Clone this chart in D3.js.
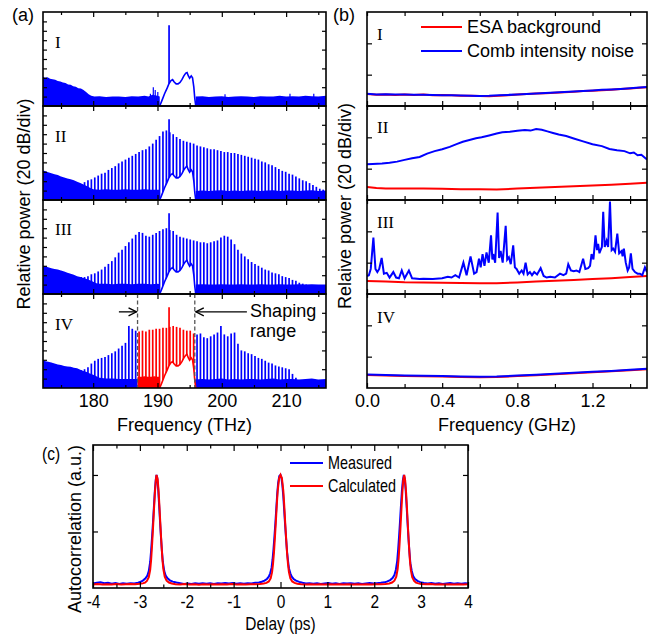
<!DOCTYPE html>
<html><head><meta charset="utf-8">
<script src="https://cdn.jsdelivr.net/npm/d3@7"></script>
<style>body{margin:0;background:#fff;}</style>
</head><body><svg id="c" width="655" height="635"></svg>
<script>
// ---------------- DATA ----------------
// Panel (a): optical spectra, relative power in dB (0-100 window), frequency in THz
const freqTicksMajor = [180, 190, 200, 210];
const freqTicksMinor = [175, 185, 195, 205, 215];
const combStart = 177.6, combStep = 0.53;          // comb line grid (THz)
const combII = [14,17,19,21,22,24,26,28,29,32,34,36,39,41,43,45,47,49,51,53,54,57,60,64,68,73,74,72,70,67,65,63,62,61,60,58,57,56,55,54,54,53,52,51,51,50,50,49,48,47,46,45,44,43,41,40,38,37,35,33,31,30,28,27,25,23,21,20,18,16,14,12,11];
const combIII = [17,18,18,19,21,22,24,26,29,32,35,39,44,47,51,55,59,63,66,65,62,61,63,65,67,69,70,68,67,63,61,60,59,58,57,56,55,55,54,55,56,57,60,62,61,58,53,47,43,40,37,34,32,30,28,26,25,23,22,21,19,18,17,15,14,12,11,10];
const combIV = [17,19,20,22,26,29,31,32,33,35,37,39,42,45,48,66,63,61,60,61,60,62,62,63,63,64,64,65,66,65,64,62,61,61,58,57,58,54,53,55,57,59,66,57,55,58,59,47,40,39,37,36,34,32,31,29,27,26,24,23,22,21,20,15,11];
const shapingRange = [186.9, 195.8];
const hump = [[190.35,0],[190.7,6],[191.1,13],[191.5,19],[191.8,24],[192.1,27],[192.35,28],[192.6,25.5],[192.9,23.5],[193.2,23.5],[193.5,25],[193.8,28],[194.1,32],[194.4,35],[194.6,35.5],[194.8,32],[195.0,29.5],[195.25,32],[195.45,30],[195.65,20],[195.8,8],[195.95,0]];
const cwLine = [191.8, 24, 86];   // freq, base, top
const floorI_L = [[172.2,31],[172.5,30],[172.9,30.5],[173.3,29],[173.7,28.5],[174.1,28],[174.5,26.5],[174.9,26],[175.3,25],[175.7,24.5],[176.1,23],[176.5,22.5],[176.9,21],[177.3,20.5],[177.7,19],[178.1,18.5],[178.5,17],[178.9,15],[179.3,12.5],[179.7,11],[180.2,10],[181,10.5],[182,9.5],[183,10],[184,10],[185,9.5],[186,10.5],[187,10],[188,11],[188.6,10],[189.2,12],[190,11],[190.35,10]];
const floorI_R = [[195.95,10],[197,10.5],[198,9.5],[199,10],[200,10.5],[201,9.5],[202,10],[203,10.5],[204,10],[205,9.5],[206,10.5],[207,10],[208,10],[209,11],[210,10],[211,10.5],[212,10],[213,11],[214,10.5],[215,10],[216.2,11]];
const spikesI = [[188.9,13],[189.35,20],[189.65,17],[190.05,15],[200.5,12.5],[210.6,13],[214.3,13]];
const floorII_L = [[172.2,31.5],[172.6,30.5],[173,29.5],[173.5,28.5],[174,27.5],[174.5,26.5],[175,25],[175.5,24],[176,23],[176.5,22],[177,21],[177.5,19.5],[178,18],[178.5,16.5],[179,15],[179.5,13],[180,11.5],[181,11],[182,11.5],[183,11],[184,11],[185,11.5],[186,11],[187,11],[188,11.5],[189,11],[190,11],[190.35,11]];
const floorII_R = [[195.95,9.5],[197,10],[198,9.5],[199,10],[200,10.5],[201,9.5],[202,10],[203,9.5],[204,10],[205,10],[206,9.5],[207,10],[208,10.5],[209,9.5],[210,10],[211,10],[212,9.5],[213,10],[214,10.5],[215,9.5],[216.2,10]];
const floorIII_L = [[172.2,30],[172.6,29.5],[173,28.5],[173.5,27.5],[174,26.5],[174.5,26],[175,25],[175.5,24],[176,22.5],[176.5,21.5],[177,20.5],[177.5,19],[178,18],[178.5,17],[179,16],[179.5,14.5],[180,13],[180.5,11.5],[181,11],[182,11],[183,10.5],[184,11],[185,11],[186,10.5],[187,11],[188,11],[189,10.5],[190,11],[190.35,10.5]];
const floorIII_R = [[195.95,10],[197,10.5],[198,10],[199,10],[200,10.5],[201,10],[202,10],[203,10.5],[204,10],[205,10],[206,10.5],[207,10],[208,10],[209,10.5],[210,10],[211,10],[212,10.5],[213,10],[214,10.5],[215,10],[216.2,10]];
const floorIV_L = [[172.2,29.5],[172.6,28.5],[173,28],[173.5,27],[174,26],[174.5,25],[175,24.5],[175.5,23.5],[176,23],[176.5,22.5],[177,21.5],[177.5,21],[178,19.5],[178.5,18],[179,17],[179.5,15.5],[180,14],[180.5,12.5],[181,11],[182,10],[183,10],[184,9.5],[185,9.5],[186,9.5],[186.9,9.5]];
const floorIV_S = [[186.9,12],[187.5,12],[188,12.5],[188.5,12],[189,12],[189.5,12.5],[190,12],[190.35,12]];
const floorIV_R = [[195.85,9],[197,9.5],[198,9],[199,9.5],[200,10],[201,9],[202,9.5],[203,9],[204,9.5],[205,9.5],[206,9],[207,9.5],[208,10],[209,9],[210,9.5],[211,9.5],[212,9],[213,9.5],[214,10],[215,9],[216.2,9.5]];

// Panel (b): RF spectra (dB in a 60 dB window), frequency in GHz
const rfTicksMajor = [0, 0.4, 0.8, 1.2];
const rfTicksMinor = [0.2, 0.6, 1.0, 1.4];
const bI_esa = [[0,7.6],[0.05,7.2],[0.1,7.4],[0.15,7.0],[0.2,7.3],[0.25,7.1],[0.3,7.3],[0.35,6.9],[0.4,7.0],[0.45,6.8],[0.5,6.6],[0.55,6.5],[0.6,6.4],[0.65,6.3],[0.7,6.5],[0.75,6.9],[0.8,7.3],[0.85,7.6],[0.9,7.9],[0.95,8.2],[1.0,8.5],[1.05,8.8],[1.1,9.1],[1.15,9.5],[1.2,9.8],[1.25,10.1],[1.3,10.4],[1.35,10.8],[1.4,11.2],[1.45,11.6],[1.49,11.9]];
const bI_comb = [[0,7.9],[0.05,7.4],[0.1,7.5],[0.15,7.3],[0.2,7.4],[0.25,7.2],[0.3,7.2],[0.35,7.0],[0.4,6.9],[0.45,6.9],[0.5,6.7],[0.55,6.5],[0.6,6.4],[0.65,6.5],[0.7,6.8],[0.75,7.1],[0.8,7.4],[0.85,7.7],[0.9,8.0],[0.95,8.3],[1.0,8.6],[1.05,8.9],[1.1,9.2],[1.15,9.5],[1.2,9.9],[1.25,10.3],[1.3,10.6],[1.35,10.9],[1.4,11.3],[1.45,11.8],[1.49,12.1]];
const bII_esa = [[0,8.3],[0.05,7.6],[0.1,7.4],[0.2,7.3],[0.3,7.4],[0.4,7.2],[0.5,6.9],[0.6,6.8],[0.69,6.7],[0.8,7.3],[0.9,7.8],[1.0,8.3],[1.1,8.8],[1.2,9.3],[1.3,9.8],[1.4,10.4],[1.49,11.0]];
const bII_comb = [[0,22.8],[0.03,23],[0.08,23.3],[0.12,23.8],[0.16,24.5],[0.2,25.6],[0.24,26.6],[0.28,27.5],[0.32,29.6],[0.36,31.2],[0.4,32.4],[0.44,33.9],[0.48,35.8],[0.51,37.2],[0.55,38.5],[0.58,39.4],[0.61,40],[0.65,41.2],[0.69,42.5],[0.72,43.2],[0.76,43.5],[0.8,44.2],[0.84,44.6],[0.87,44.3],[0.9,45.3],[0.93,44.8],[0.96,43.8],[0.99,42.8],[1.02,41.8],[1.06,40.8],[1.1,39.3],[1.15,37.4],[1.2,35.6],[1.25,34.4],[1.29,32.6],[1.33,31.8],[1.37,31.2],[1.4,29.8],[1.42,30.3],[1.44,28.6],[1.46,28.9],[1.49,25.8]];
const bIII_esa = [[0,8.3],[0.1,7.9],[0.2,7.5],[0.3,7.4],[0.4,7.2],[0.5,7.0],[0.6,6.8],[0.69,6.8],[0.8,7.4],[0.9,7.9],[1.0,8.4],[1.1,8.9],[1.2,9.5],[1.3,10.1],[1.4,10.8],[1.49,11.5]];
const bIII_comb = [[0,11.5],[0.01,12],[0.02,16],[0.034,36],[0.045,16],[0.055,14],[0.065,16],[0.078,23],[0.09,13],[0.105,13.5],[0.12,10.5],[0.14,14],[0.155,10.5],[0.17,10],[0.185,15],[0.2,10],[0.223,15],[0.24,10],[0.28,9.5],[0.3,9.8],[0.35,9.5],[0.4,10],[0.43,11],[0.45,10.5],[0.47,12],[0.49,10.5],[0.513,20],[0.53,12],[0.551,24],[0.57,13],[0.583,14],[0.596,22.5],[0.605,17],[0.615,25.5],[0.625,18],[0.636,26.5],[0.648,20],[0.66,37.5],[0.667,22],[0.672,25.5],[0.682,20],[0.695,52],[0.703,23],[0.711,27.5],[0.722,20],[0.738,43.5],[0.746,22],[0.755,23.5],[0.765,19],[0.778,31],[0.787,17],[0.796,16],[0.81,13],[0.823,15],[0.833,13],[0.844,20],[0.855,12.5],[0.867,14],[0.878,12],[0.89,14],[0.905,12.5],[0.924,16.5],[0.94,11.5],[0.956,10.5],[0.975,11],[1.0,10.5],[1.027,13],[1.045,12],[1.06,13],[1.071,19],[1.085,15],[1.1,14.5],[1.115,15],[1.13,14],[1.15,22.5],[1.162,16],[1.177,16.5],[1.187,18],[1.195,25.5],[1.205,22],[1.216,37.5],[1.224,28],[1.23,32],[1.237,26],[1.243,28],[1.25,30],[1.257,52.5],[1.265,30],[1.275,34],[1.283,30],[1.293,59],[1.302,28],[1.31,29],[1.32,27],[1.332,38.5],[1.342,26],[1.355,27.5],[1.36,24],[1.367,29],[1.377,20],[1.387,15],[1.395,17],[1.404,26],[1.413,16],[1.426,14],[1.44,13],[1.452,13],[1.465,12],[1.479,17],[1.49,14]];
const bIV_esa = [[0,8.3],[0.1,7.9],[0.2,7.6],[0.3,7.5],[0.4,7.3],[0.5,7.0],[0.6,6.9],[0.69,7.0],[0.8,7.6],[0.9,8.2],[1.0,8.8],[1.1,9.4],[1.2,10.0],[1.3,10.7],[1.4,11.3],[1.49,11.9]];
const bIV_comb = [[0,8.6],[0.1,8.3],[0.2,8.0],[0.3,7.8],[0.4,7.6],[0.5,7.4],[0.6,7.2],[0.69,7.3],[0.8,7.9],[0.9,8.5],[1.0,9.1],[1.1,9.7],[1.2,10.3],[1.3,10.9],[1.4,11.6],[1.49,12.3]];

// Panel (c): autocorrelation, delay in ps
const delayTicksMajor = [-4,-3,-2,-1,0,1,2,3,4];
const delayTicksMinor = [-3.5,-2.5,-1.5,-0.5,0.5,1.5,2.5,3.5];
const measured = [[-4.00,0.040],[-3.92,0.046],[-3.84,0.050],[-3.76,0.042],[-3.68,0.047],[-3.60,0.038],[-3.52,0.044],[-3.44,0.036],[-3.36,0.041],[-3.28,0.037],[-3.20,0.043],[-3.12,0.040],[-3.04,0.047],[-2.98,0.055],
[-2.93,0.068],[-2.88,0.085],[-2.84,0.110],[-2.81,0.150],[-2.78,0.230],[-2.76,0.330],[-2.74,0.450],[-2.72,0.580],[-2.70,0.720],[-2.68,0.860],[-2.66,0.960],[-2.645,1.000],[-2.63,0.975],[-2.61,0.880],[-2.59,0.740],[-2.57,0.590],[-2.55,0.450],[-2.53,0.330],[-2.51,0.230],[-2.48,0.150],[-2.45,0.110],[-2.41,0.085],[-2.36,0.068],[-2.30,0.056],[-2.22,0.048],
[-2.14,0.042],[-2.06,0.036],[-1.98,0.040],[-1.90,0.035],[-1.82,0.041],[-1.74,0.037],[-1.66,0.043],[-1.58,0.038],[-1.50,0.041],[-1.42,0.036],[-1.34,0.042],[-1.26,0.039],[-1.18,0.044],[-1.10,0.040],[-1.02,0.045],[-0.94,0.038],[-0.86,0.042],[-0.78,0.037],[-0.70,0.043],[-0.62,0.039],[-0.54,0.046],[-0.46,0.048],[-0.40,0.055],
[-0.34,0.065],[-0.29,0.080],[-0.25,0.100],[-0.22,0.130],[-0.19,0.180],[-0.17,0.250],[-0.15,0.340],[-0.13,0.450],[-0.11,0.570],[-0.09,0.700],[-0.07,0.830],[-0.05,0.930],[-0.025,0.990],[0,1.000],[0.02,0.975],[0.04,0.910],[0.06,0.810],[0.08,0.680],[0.10,0.550],[0.12,0.430],[0.14,0.320],[0.16,0.240],[0.18,0.175],[0.21,0.130],[0.24,0.100],[0.28,0.080],[0.33,0.065],[0.40,0.054],[0.47,0.046],
[0.54,0.040],[0.62,0.043],[0.70,0.037],[0.78,0.041],[0.86,0.036],[0.94,0.040],[1.02,0.044],[1.10,0.038],[1.18,0.042],[1.26,0.036],[1.34,0.041],[1.42,0.039],[1.50,0.043],[1.58,0.037],[1.66,0.041],[1.74,0.036],[1.82,0.040],[1.90,0.044],[1.98,0.039],[2.06,0.043],[2.14,0.046],[2.22,0.050],
[2.28,0.058],[2.34,0.070],[2.39,0.088],[2.43,0.115],[2.46,0.160],[2.49,0.240],[2.51,0.340],[2.53,0.460],[2.55,0.590],[2.57,0.730],[2.59,0.860],[2.61,0.950],[2.63,1.000],[2.65,0.970],[2.67,0.870],[2.69,0.730],[2.71,0.580],[2.73,0.440],[2.75,0.320],[2.77,0.220],[2.80,0.150],[2.83,0.105],[2.87,0.080],[2.92,0.063],[2.98,0.052],
[3.06,0.044],[3.14,0.040],[3.22,0.045],[3.30,0.038],[3.38,0.042],[3.46,0.036],[3.54,0.040],[3.62,0.044],[3.70,0.037],[3.78,0.042],[3.86,0.038],[3.94,0.043],[4.00,0.040]];
const calculated = [[-4.00,0.032],[-3.90,0.035],[-3.80,0.030],[-3.70,0.034],[-3.60,0.031],[-3.50,0.035],[-3.40,0.030],[-3.30,0.033],[-3.20,0.036],[-3.10,0.033],[-3.00,0.037],[-2.94,0.041],
[-2.89,0.048],[-2.85,0.062],[-2.81,0.095],[-2.78,0.160],[-2.76,0.250],[-2.74,0.380],[-2.72,0.530],[-2.70,0.690],[-2.68,0.840],[-2.66,0.950],[-2.645,1.000],[-2.62,0.960],[-2.60,0.850],[-2.58,0.700],[-2.56,0.540],[-2.54,0.390],[-2.52,0.260],[-2.50,0.170],[-2.47,0.100],[-2.43,0.065],[-2.38,0.048],[-2.32,0.040],
[-2.24,0.034],[-2.14,0.031],[-2.04,0.035],[-1.94,0.030],[-1.84,0.033],[-1.74,0.029],[-1.64,0.034],[-1.54,0.031],[-1.44,0.033],[-1.34,0.030],[-1.24,0.034],[-1.14,0.031],[-1.04,0.035],[-0.94,0.030],[-0.84,0.033],[-0.74,0.031],[-0.64,0.034],[-0.54,0.033],[-0.44,0.036],[-0.36,0.040],
[-0.30,0.045],[-0.25,0.058],[-0.21,0.085],[-0.18,0.140],[-0.16,0.210],[-0.14,0.310],[-0.12,0.440],[-0.10,0.580],[-0.08,0.730],[-0.06,0.860],[-0.03,0.970],[0,1.000],[0.03,0.970],[0.06,0.860],[0.08,0.730],[0.10,0.580],[0.12,0.440],[0.14,0.310],[0.16,0.210],[0.18,0.140],[0.21,0.085],[0.25,0.058],[0.30,0.045],[0.36,0.038],
[0.44,0.034],[0.54,0.031],[0.64,0.034],[0.74,0.030],[0.84,0.033],[0.94,0.031],[1.04,0.034],[1.14,0.030],[1.24,0.033],[1.34,0.031],[1.44,0.034],[1.54,0.030],[1.64,0.033],[1.74,0.031],[1.84,0.034],[1.94,0.031],[2.04,0.034],[2.14,0.033],[2.24,0.036],[2.32,0.040],
[2.38,0.048],[2.43,0.065],[2.47,0.100],[2.50,0.170],[2.52,0.260],[2.54,0.390],[2.56,0.540],[2.58,0.700],[2.60,0.850],[2.62,0.960],[2.64,1.000],[2.66,0.950],[2.68,0.840],[2.70,0.690],[2.72,0.530],[2.74,0.380],[2.76,0.250],[2.78,0.160],[2.81,0.095],[2.85,0.062],[2.89,0.048],[2.94,0.041],
[3.00,0.036],[3.10,0.033],[3.20,0.035],[3.30,0.031],[3.40,0.034],[3.50,0.030],[3.60,0.033],[3.70,0.031],[3.80,0.034],[3.90,0.032],[4.00,0.033]];

// ---------------- DRAWING ----------------
const SANS = "'Liberation Sans', Arial, Helvetica, sans-serif";
const SERIF = "'Liberation Serif', 'Times New Roman', serif";
const BLUE = "#0000ff", RED = "#ff0000";
const svg = d3.select("#c");
svg.append("rect").attr("width",655).attr("height",635).attr("fill","#fff");

function styleAxis(g){
  g.select(".domain").remove();
  g.attr("font-size", null).attr("font-family", null);
  g.selectAll("line").attr("stroke","#000").attr("stroke-width",1.2);
  g.selectAll("text").attr("fill","#000").style("font-size","18px").style("font-family",SANS);
}
function addText(x, y, str, opts={}){
  const t = svg.append("text").text(str)
    .style("font-size",(opts.size||18)+"px").style("font-family",opts.font||SANS).attr("fill","#000");
  if(opts.anchor) t.attr("text-anchor",opts.anchor);
  const sx = opts.sx || 1;
  if(opts.rotate) t.attr("transform",`translate(${x},${y}) rotate(-90)`);
  else t.attr("transform",`translate(${x},${y}) scale(${sx},1)`);
  return t;
}

// layout
const PT = 12, PH = 94;                       // stacked panels top & height
const xA = d3.scaleLinear().domain([172.2, 216.2]).range([43, 326]);
const xB = d3.scaleLinear().domain([0, 1.49]).range([367, 647]);
const yAk = k => d3.scaleLinear().domain([0,100]).range([PT+PH*(k+1), PT+PH*k]);
const yBk = k => d3.scaleLinear().domain([0,60]).range([PT+PH*(k+1), PT+PH*k]);

let clipId = 0;
function clipRect(x0,y0,w,h){
  const id = "clip"+(clipId++);
  svg.append("clipPath").attr("id",id).append("rect").attr("x",x0).attr("y",y0).attr("width",w).attr("height",h);
  return "url(#"+id+")";
}

// ---------- Panel (a) ----------
const panelsA = [
  {lab:"I",   floorL:floorI_L,   floorS:null,      floorR:floorI_R,   comb:null,     spikes:spikesI, shaped:false},
  {lab:"II",  floorL:floorII_L,  floorS:null,      floorR:floorII_R,  comb:combII,   spikes:[],      shaped:false},
  {lab:"III", floorL:floorIII_L, floorS:null,      floorR:floorIII_R, comb:combIII,  spikes:[],      shaped:false},
  {lab:"IV",  floorL:floorIV_L,  floorS:floorIV_S, floorR:floorIV_R,  comb:combIV,   spikes:[],      shaped:true}
];
panelsA.forEach((p,k)=>{
  const y = yAk(k);
  const g = svg.append("g").attr("clip-path", clipRect(43, PT+PH*k, 283, PH));
  const area = d3.area().x(d=>xA(d[0])).y0(y(0)).y1(d=>y(d[1]));
  const inShape = f => p.shaped && f >= shapingRange[0] && f <= shapingRange[1];
  g.append("path").attr("d",area(p.floorL)).attr("fill",BLUE);
  if(p.floorS) g.append("path").attr("d",area(p.floorS)).attr("fill",RED);
  g.append("path").attr("d",area(p.floorR)).attr("fill",BLUE);
  if(p.comb){
    g.selectAll(null).data(p.comb.map((v,i)=>[combStart+i*combStep, v])).enter().append("line")
      .attr("x1",d=>xA(d[0])).attr("x2",d=>xA(d[0]))
      .attr("y1",y(0)).attr("y2",d=>y(d[1]))
      .attr("stroke",d=>inShape(d[0])?RED:BLUE).attr("stroke-width",1.7);
  }
  g.selectAll(null).data(p.spikes).enter().append("line")
    .attr("x1",d=>xA(d[0])).attr("x2",d=>xA(d[0])).attr("y1",y(0)).attr("y2",d=>y(d[1]))
    .attr("stroke",BLUE).attr("stroke-width",1.2);
  const hc = p.shaped ? RED : BLUE;
  g.append("path").attr("d",area(hump)).attr("fill","#fff");
  g.append("path").attr("d",d3.line().x(d=>xA(d[0])).y(d=>y(d[1]))(hump))
    .attr("fill","none").attr("stroke",hc).attr("stroke-width",1.6);
  g.append("line").attr("x1",xA(cwLine[0])).attr("x2",xA(cwLine[0]))
    .attr("y1",y(cwLine[1])).attr("y2",y(cwLine[2])).attr("stroke",hc).attr("stroke-width",1.7);

  if(p.shaped){
    shapingRange.forEach(f=>{
      svg.append("line").attr("x1",xA(f)).attr("x2",xA(f)).attr("y1",y(100)).attr("y2",y(0))
        .attr("stroke","#555").attr("stroke-width",1.3).attr("stroke-dasharray","4,2.5");
    });
  }
  // axes
  const bot = PT+PH*(k+1), top = PT+PH*k;
  svg.append("g").attr("transform",`translate(0,${bot})`)
    .call(d3.axisBottom(xA).tickValues(freqTicksMajor).tickSize(-5).tickPadding(6).tickFormat(k===3?d3.format("d"):()=> "")).call(styleAxis);
  svg.append("g").attr("transform",`translate(0,${bot})`)
    .call(d3.axisBottom(xA).tickValues(freqTicksMinor).tickSize(-3).tickFormat(()=>"")).call(styleAxis);
  svg.append("g").attr("transform",`translate(0,${top})`)
    .call(d3.axisTop(xA).tickValues(freqTicksMajor).tickSize(-5).tickFormat(()=>"")).call(styleAxis);
  svg.append("g").attr("transform",`translate(0,${top})`)
    .call(d3.axisTop(xA).tickValues(freqTicksMinor).tickSize(-3).tickFormat(()=>"")).call(styleAxis);
  svg.append("g").attr("transform",`translate(43,0)`)
    .call(d3.axisLeft(y).tickValues([10,20,30,40,50,60,70,80,90]).tickSize(-4).tickFormat(()=>"")).call(styleAxis);
  svg.append("g").attr("transform",`translate(326,0)`)
    .call(d3.axisRight(y).tickValues([20,40,60,80]).tickSize(-4).tickFormat(()=>"")).call(styleAxis);
  svg.append("rect").attr("x",43).attr("y",top).attr("width",283).attr("height",PH)
    .attr("fill","none").attr("stroke","#000").attr("stroke-width",1.6);
  addText(55, [48,142,235,330][k], p.lab, {font:SERIF, size:17});
});
// Shaping range annotation
(function(){
  const y = yAk(3);
  const ya = y(81);
  const mk = (x1,x2)=>{
    svg.append("line").attr("x1",x1).attr("x2",x2).attr("y1",ya).attr("y2",ya).attr("stroke","#000").attr("stroke-width",1.3);
    const dir = Math.sign(x2-x1);
    svg.append("path").attr("d",`M${x2-dir*8},${ya-4}L${x2},${ya}L${x2-dir*8},${ya+4}`)
      .attr("fill","none").attr("stroke","#000").attr("stroke-width",1.3);
  };
  mk(xA(184.0), xA(shapingRange[0])-1);
  mk(xA(203.9), xA(shapingRange[1])+1);
  addText(xA(204.4), 317, "Shaping");
  addText(xA(204.4), 337, "range");
})();
addText(12, 21, "(a)");
addText(30, 204, "Relative power (20 dB/div)", {anchor:"middle", rotate:true});
addText(184.5, 431, "Frequency (THz)", {anchor:"middle"});

// ---------- Panel (b) ----------
const panelsB = [
  {lab:"I",   esa:bI_esa,   comb:bI_comb},
  {lab:"II",  esa:bII_esa,  comb:bII_comb},
  {lab:"III", esa:bIII_esa, comb:bIII_comb},
  {lab:"IV",  esa:bIV_esa,  comb:bIV_comb}
];
panelsB.forEach((p,k)=>{
  const y = yBk(k);
  const bot = PT+PH*(k+1), top = PT+PH*k;
  const g = svg.append("g").attr("clip-path", clipRect(367, top, 280, PH));
  const line = d3.line().x(d=>xB(d[0])).y(d=>y(d[1]));
  g.append("path").attr("d",line(p.esa)).attr("fill","none").attr("stroke",RED).attr("stroke-width",2);
  g.append("path").attr("d",line(p.comb)).attr("fill","none").attr("stroke",BLUE).attr("stroke-width",2);
  svg.append("g").attr("transform",`translate(0,${bot})`)
    .call(d3.axisBottom(xB).tickValues(rfTicksMajor).tickSize(-5).tickPadding(6).tickFormat(k===3?d3.format(".1f"):()=> "")).call(styleAxis);
  svg.append("g").attr("transform",`translate(0,${bot})`)
    .call(d3.axisBottom(xB).tickValues(rfTicksMinor).tickSize(-4).tickFormat(()=>"")).call(styleAxis);
  svg.append("g").attr("transform",`translate(0,${top})`)
    .call(d3.axisTop(xB).tickValues(rfTicksMajor.concat(rfTicksMinor)).tickSize(-4).tickFormat(()=>"")).call(styleAxis);
  svg.append("g").attr("transform",`translate(367,0)`)
    .call(d3.axisLeft(y).tickValues([20,40]).tickSize(-5).tickFormat(()=>"")).call(styleAxis);
  svg.append("g").attr("transform",`translate(647,0)`)
    .call(d3.axisRight(y).tickValues([20,40]).tickSize(-5).tickFormat(()=>"")).call(styleAxis);
  svg.append("rect").attr("x",367).attr("y",top).attr("width",280).attr("height",PH)
    .attr("fill","none").attr("stroke","#000").attr("stroke-width",1.6);
  addText(377, [40,133,228,323][k], p.lab, {font:SERIF, size:17});
});
// legend (b)
svg.append("line").attr("x1",421).attr("x2",462).attr("y1",27).attr("y2",27).attr("stroke",RED).attr("stroke-width",2);
addText(467, 33, "ESA background");
svg.append("line").attr("x1",421).attr("x2",462).attr("y1",51).attr("y2",51).attr("stroke",BLUE).attr("stroke-width",2);
addText(467, 57, "Comb intensity noise");
addText(333, 21, "(b)");
addText(351, 206, "Relaive power (20 dB/div)", {anchor:"middle", rotate:true});
addText(507, 431, "Frequency (GHz)", {anchor:"middle"});

// ---------- Panel (c) ----------
(function(){
  const SX = 0.86;
  const x = d3.scaleLinear().domain([-4,4]).range([93,468]);
  const y = d3.scaleLinear().domain([0,1.265]).range([588,445]);
  const g = svg.append("g").attr("clip-path", clipRect(93,445,375,143));
  const line = d3.line().x(d=>x(d[0])).y(d=>y(d[1]));
  g.append("path").attr("d",line(measured)).attr("fill","none").attr("stroke",BLUE).attr("stroke-width",2);
  g.append("path").attr("d",line(calculated)).attr("fill","none").attr("stroke",RED).attr("stroke-width",2);
  const xa = svg.append("g").attr("transform","translate(0,588)")
    .call(d3.axisBottom(x).tickValues(delayTicksMajor).tickSize(-6).tickPadding(7).tickFormat(d=>String(d))).call(styleAxis);
  xa.selectAll("text").attr("transform",`scale(${SX},1)`).attr("x",function(d){return 0;});
  svg.append("g").attr("transform","translate(0,588)")
    .call(d3.axisBottom(x).tickValues(delayTicksMinor).tickSize(-3.5).tickFormat(()=>"")).call(styleAxis);
  svg.append("g").attr("transform","translate(0,445)")
    .call(d3.axisTop(x).tickValues(delayTicksMajor).tickSize(-6).tickFormat(()=>"")).call(styleAxis);
  svg.append("g").attr("transform","translate(0,445)")
    .call(d3.axisTop(x).tickValues(delayTicksMinor).tickSize(-3.5).tickFormat(()=>"")).call(styleAxis);
  svg.append("g").attr("transform","translate(93,0)")
    .call(d3.axisLeft(y).tickValues([0.5,1]).tickSize(-5).tickFormat(()=>"")).call(styleAxis);
  svg.append("g").attr("transform","translate(468,0)")
    .call(d3.axisRight(y).tickValues([0.5,1]).tickSize(-5).tickFormat(()=>"")).call(styleAxis);
  svg.append("rect").attr("x",93).attr("y",445).attr("width",375).attr("height",143)
    .attr("fill","none").attr("stroke","#000").attr("stroke-width",1.6);
  svg.append("line").attr("x1",290).attr("x2",323).attr("y1",463).attr("y2",463).attr("stroke",BLUE).attr("stroke-width",2);
  addText(328, 469, "Measured", {sx:0.8});
  svg.append("line").attr("x1",290).attr("x2",323).attr("y1",486).attr("y2",486).attr("stroke",RED).attr("stroke-width",2);
  addText(328, 492, "Calculated", {sx:0.8});
  addText(42, 460, "(c)", {sx:SX});
  addText(81, 529, "Autocorrelation (a.u.)", {anchor:"middle", rotate:true});
  addText(280.5, 630, "Delay (ps)", {anchor:"middle", sx:SX});
})();
</script></body></html>
